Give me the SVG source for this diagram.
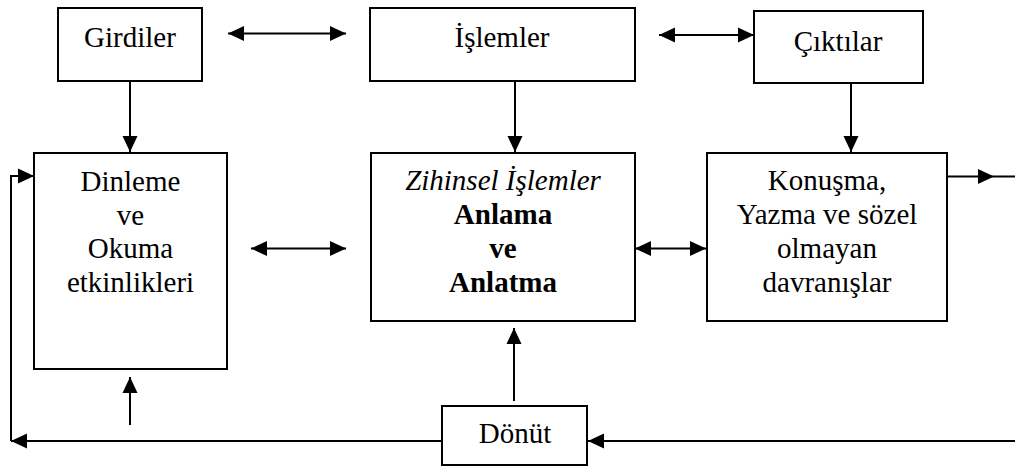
<svg xmlns="http://www.w3.org/2000/svg" width="1015" height="467" viewBox="0 0 1015 467">
<style>
.box{fill:#fff;stroke:#000;stroke-width:2}
.t{font-family:'Liberation Serif','Times New Roman',serif;font-size:29px;fill:#000;text-anchor:middle}
.b{font-weight:bold}
.i{font-style:italic}
.c{fill:none;stroke:#000;stroke-width:2}
.a{marker-end:url(#ah)}
.d{marker-start:url(#ah);marker-end:url(#ah)}
</style>
<defs>
<marker id="ah" markerUnits="userSpaceOnUse" markerWidth="17" markerHeight="16" refX="16" refY="8" orient="auto-start-reverse" viewBox="0 0 17 16">
<path d="M0,0.5 L16,8 L0,15.5 z" fill="#000"/>
</marker>
</defs>
<rect width="1015" height="467" fill="#fff"/>
<g id="connectors">
<path class="c a" d="M130,81 V152"/>
<path class="c a" d="M515,81 V152"/>
<path class="c a" d="M851,83 V152"/>
<path class="c d" d="M228,33.5 H346"/>
<path class="c d" d="M659,35 H754"/>
<path class="c d" d="M251,248.5 H346"/>
<path class="c d" d="M635,248.5 H706"/>
<path class="c a" d="M947,176.5 H994"/>
<path class="c" d="M994,176.5 H1015"/>
<path class="c a" d="M1015,441 H588"/>
<path class="c a" d="M442,441 H11"/>
<path class="c a" d="M11,441 V176 H34"/>
<path class="c a" d="M514,401 V328"/>
<path class="c a" d="M130,425 V377"/>
</g>
<g id="girdiler">
<rect class="box" x="58" y="8" width="144" height="73"/>
<text class="t" x="130" y="47">Girdiler</text>
</g>
<g id="islemler">
<rect class="box" x="370" y="8" width="265" height="73"/>
<text class="t" x="502" y="47">İşlemler</text>
</g>
<g id="ciktilar">
<rect class="box" x="754" y="11" width="169" height="72"/>
<text class="t" x="838" y="51">Çıktılar</text>
</g>
<g id="dinleme">
<rect class="box" x="34" y="153" width="193" height="216"/>
<text class="t" x="130.5" y="191">Dinleme</text>
<text class="t" x="130.5" y="225">ve</text>
<text class="t" x="130.5" y="258">Okuma</text>
<text class="t" x="130.5" y="292">etkinlikleri</text>
</g>
<g id="zihinsel">
<rect class="box" x="371" y="153" width="264" height="168"/>
<text class="t i" x="503" y="190">Zihinsel İşlemler</text>
<text class="t b" x="503" y="224">Anlama</text>
<text class="t b" x="503" y="258">ve</text>
<text class="t b" x="503" y="292">Anlatma</text>
</g>
<g id="konusma">
<rect class="box" x="707" y="153" width="240" height="168"/>
<text class="t" x="827" y="190">Konuşma,</text>
<text class="t" x="827" y="224">Yazma ve sözel</text>
<text class="t" x="827" y="258">olmayan</text>
<text class="t" x="827" y="292">davranışlar</text>
</g>
<g id="donut">
<rect class="box" x="442" y="406" width="145" height="59"/>
<text class="t" x="515" y="443">Dönüt</text>
</g>
</svg>
